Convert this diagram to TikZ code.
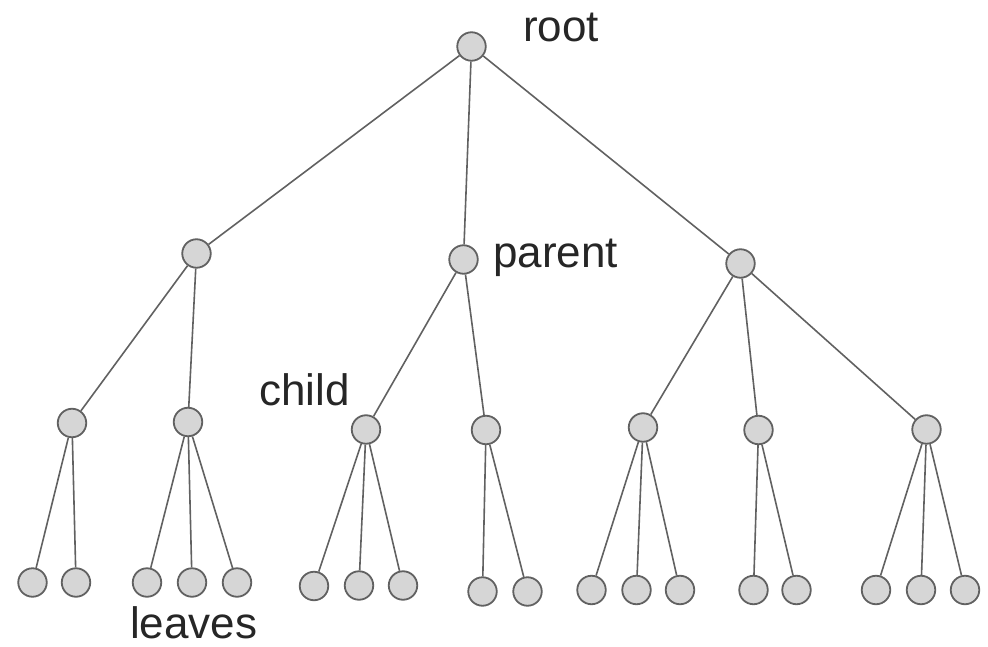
\documentclass[tikz,border=0pt]{standalone}
\usepackage{fontspec}
\setmainfont{Liberation Sans}
\begin{document}
\begin{tikzpicture}[x=1pt,y=-1pt,
  vertex/.style={circle,draw=black!62,line width=1.8pt,fill=black!16,
    minimum size=28.5pt,inner sep=0pt},
  edge/.style={draw=black!62,line width=1.6pt},
  lbl/.style={anchor=base west,inner sep=0pt,text=black!85,
    font=\fontsize{44}{50}\selectfont}]
\useasboundingbox (0,0) rectangle (988,647);
% root and first level
\node[vertex] (r) at (471.5,46.5) {};
\node[vertex] (a) at (196.5,253.5) {};
\node[vertex] (b) at (463.5,259.5) {};
\node[vertex] (c) at (740.5,263.5) {};
% second level
\node[vertex] (a1) at (72,423) {};
\node[vertex] (a2) at (188,422) {};
\node[vertex] (b1) at (366,429.5) {};
\node[vertex] (b2) at (486,430) {};
\node[vertex] (c1) at (643,427.5) {};
\node[vertex] (c2) at (758.5,430) {};
\node[vertex] (c3) at (926.5,429.5) {};
% leaves
\node[vertex] (a11) at (32.5,582.5) {};
\node[vertex] (a12) at (76,582.5) {};
\node[vertex] (a21) at (147,582.5) {};
\node[vertex] (a22) at (192,582.5) {};
\node[vertex] (a23) at (237,582.5) {};
\node[vertex] (b11) at (314,586) {};
\node[vertex] (b12) at (359,585.5) {};
\node[vertex] (b13) at (403,585.5) {};
\node[vertex] (b21) at (482.5,591.5) {};
\node[vertex] (b22) at (527.5,591.5) {};
\node[vertex] (c11) at (591.5,590) {};
\node[vertex] (c12) at (636.5,590) {};
\node[vertex] (c13) at (680,590) {};
\node[vertex] (c21) at (753.5,590) {};
\node[vertex] (c22) at (796.5,590) {};
\node[vertex] (c31) at (876,590) {};
\node[vertex] (c32) at (921,590) {};
\node[vertex] (c33) at (965,590) {};
% connectors
\foreach \p/\q in {r/a,r/b,r/c,a/a1,a/a2,b/b1,b/b2,c/c1,c/c2,c/c3,
  a1/a11,a1/a12,a2/a21,a2/a22,a2/a23,b1/b11,b1/b12,b1/b13,b2/b21,b2/b22,
  c1/c11,c1/c12,c1/c13,c2/c21,c2/c22,c3/c31,c3/c32,c3/c33}
  \draw[edge] (\p) -- (\q);
% labels
\node[lbl] (troot) at (523,42) {root};
\node[lbl] (tparent) at (493,268) {parent};
\node[lbl] (tchild) at (259,405) {child};
\node[lbl] (tleaves) at (130,638) {leaves};
\end{tikzpicture}
\end{document}
